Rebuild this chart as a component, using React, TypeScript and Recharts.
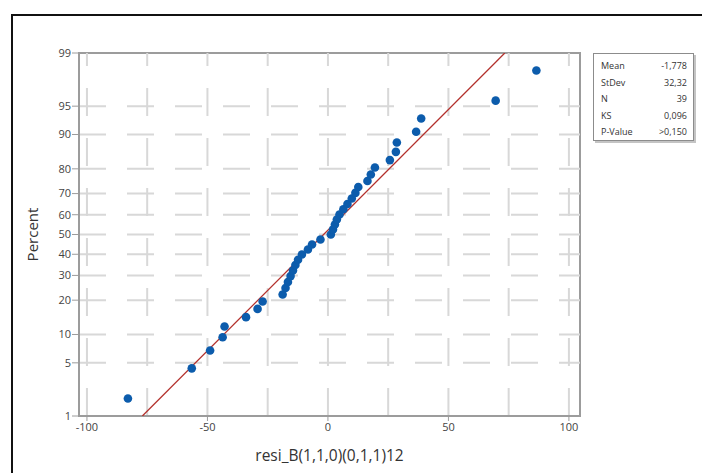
import React from 'react'
import { ScatterChart, Scatter, XAxis, YAxis, ReferenceLine, ReferenceArea } from 'recharts'

// residuals, ordered smallest to largest
const residuals = [
  -83.0, -56.5, -48.9, -43.7, -42.9, -34.0, -29.2, -27.1, -18.8, -17.6,
  -16.6, -15.5, -14.5, -13.5, -12.4, -10.8, -8.3, -6.6, -3.1, 1.2,
  2.1, 2.9, 3.7, 4.8, 6.4, 8.1, 9.9, 11.4, 12.6, 16.4,
  17.8, 19.5, 25.7, 28.2, 28.6, 36.6, 38.7, 69.6, 86.5,
]
// plotting positions (percent) for each residual
const percents = [
  1.78, 4.31, 6.85, 9.39, 11.93, 14.47, 17.01, 19.54, 22.08, 24.62,
  27.16, 29.7, 32.23, 34.77, 37.31, 39.85, 42.39, 44.92, 47.46, 50.0,
  52.54, 55.08, 57.61, 60.15, 62.69, 65.23, 67.77, 70.3, 72.84, 75.38,
  77.92, 80.46, 82.99, 85.53, 88.07, 90.61, 93.15, 95.69, 98.22,
]
// fitted normal line end points
const fitX = [-77.0, 73.4]
const fitPercent = [1, 99]

const percentTicks = [1, 5, 10, 20, 30, 40, 50, 60, 70, 80, 90, 95, 99]
const xTicks = [-100, -50, 0, 50, 100]
const xGrid = [-100, -75, -50, -25, 0, 25, 50, 75, 100]

const statLabels = ['Mean', 'StDev', 'N', 'KS', 'P-Value']
const statValues = ['-1,778', '32,32', '39', '0,096', '>0,150']

// inverse normal cdf (Acklam) for the probability axis
function probit(p: number): number {
  const a = [-39.69683028665376, 220.9460984245205, -275.9285104469687, 138.357751867269, -30.66479806614716, 2.506628277459239]
  const b = [-54.47609879822406, 161.5858368580409, -155.6989798598866, 66.80131188771972, -13.28068155288572]
  const c = [-0.007784894002430293, -0.3223964580411365, -2.400758277161838, -2.549732539343734, 4.374664141464968, 2.938163982698783]
  const d = [0.007784695709041462, 0.3224671290700398, 2.445134137142996, 3.754408661907416]
  const lo = 0.02425
  if (p < lo) {
    const q = Math.sqrt(-2 * Math.log(p))
    return (((((c[0] * q + c[1]) * q + c[2]) * q + c[3]) * q + c[4]) * q + c[5]) / ((((d[0] * q + d[1]) * q + d[2]) * q + d[3]) * q + 1)
  }
  if (p <= 1 - lo) {
    const q = p - 0.5
    const r = q * q
    return ((((((a[0] * r + a[1]) * r + a[2]) * r + a[3]) * r + a[4]) * r + a[5]) * q) / (((((b[0] * r + b[1]) * r + b[2]) * r + b[3]) * r + b[4]) * r + 1)
  }
  return -probit(1 - p)
}

const zTicks = percentTicks.map(p => probit(p / 100))
const Z_MIN = zTicks[0]
const Z_MAX = zTicks[zTicks.length - 1]
const X_MIN = -103.3
const X_MAX = 104.6

const points = residuals.map((x, i) => ({ x, z: probit(percents[i] / 100) }))
const fitLine = fitX.map((x, i) => ({ x, z: probit(fitPercent[i] / 100) }))

const FONT = '"Open Sans", "DejaVu Sans", sans-serif'
const GRID = '#d8d8d8'
const FRAME = '#9c9c9c'

const formatPercent = (v: number) => {
  const idx = zTicks.findIndex(t => Math.abs(t - v) < 1e-6)
  return idx >= 0 ? String(percentTicks[idx]) : ''
}

export default function App() {
  return (
    <div style={{ position: 'absolute', left: 0, top: 0, width: 702, height: 473, background: '#fff', overflow: 'hidden', fontFamily: FONT }}>
      <div style={{ position: 'absolute', left: 11, top: 14, width: 720, height: 480, borderTop: '2px solid #111', borderLeft: '2px solid #111' }} />
      <ScatterChart width={702} height={473} margin={{ top: 53, right: 122, bottom: 7, left: 0 }}>
        <XAxis
          type="number"
          dataKey="x"
          domain={[X_MIN, X_MAX]}
          ticks={xTicks}
          allowDataOverflow
          height={50}
          tickSize={5}
          tick={{ fontSize: 11, fill: '#444', fontFamily: FONT }}
          axisLine={{ stroke: FRAME, strokeWidth: 2 }}
          tickLine={{ stroke: FRAME }}
          label={{ value: 'resi_B(1,1,0)(0,1,1)12', position: 'insideBottom', offset: 5, style: { fontSize: 15.5, fill: '#333', fontFamily: FONT } }}
        />
        <YAxis
          type="number"
          dataKey="z"
          domain={[Z_MIN, Z_MAX]}
          ticks={zTicks}
          allowDataOverflow
          width={79}
          tickSize={7}
          tickMargin={1}
          tickFormatter={formatPercent}
          tick={{ fontSize: 11, fill: '#444', fontFamily: FONT }}
          axisLine={{ stroke: FRAME, strokeWidth: 2 }}
          tickLine={{ stroke: FRAME }}
          label={{ value: 'Percent', angle: -90, position: 'insideLeft', offset: 33, style: { fontSize: 15, fill: '#333', textAnchor: 'middle', fontFamily: FONT } }}
        />
        {xGrid.map(v => (
          <ReferenceLine key={`vx${v}`} x={v} stroke={GRID} strokeWidth={2} strokeDasharray="28 22" />
        ))}
        {zTicks.slice(1, -1).map((v, i) => (
          <ReferenceLine key={`hz${i}`} y={v} stroke={GRID} strokeWidth={2} strokeDasharray="27 21" />
        ))}
        <ReferenceArea x1={X_MIN} x2={X_MAX} y1={Z_MIN} y2={Z_MAX} stroke={FRAME} strokeWidth={2} fill="none" fillOpacity={0} />
        <Scatter
          data={fitLine}
          isAnimationActive={false}
          line={{ stroke: '#b3302c', strokeWidth: 1.3 }}
          shape={() => <g />}
        />
        <Scatter
          data={points}
          isAnimationActive={false}
          shape={(p: any) => <circle cx={p.cx} cy={p.cy} r={4.3} fill="#0c5cac" />}
        />
      </ScatterChart>
      <div
        style={{
          position: 'absolute', left: 593, top: 53, width: 101, height: 88,
          border: '1px solid #8c8c8c', boxShadow: '2px 2px 0 #c4c4c4', background: '#fff',
          fontSize: 9, color: '#333', padding: '5px 6px 0 7px', boxSizing: 'border-box',
        }}
      >
        {statLabels.map((s, i) => (
          <div key={s} style={{ display: 'flex', justifyContent: 'space-between', height: 16.5, lineHeight: '13px' }}>
            <span>{s}</span>
            <span>{statValues[i]}</span>
          </div>
        ))}
      </div>
    </div>
  )
}
